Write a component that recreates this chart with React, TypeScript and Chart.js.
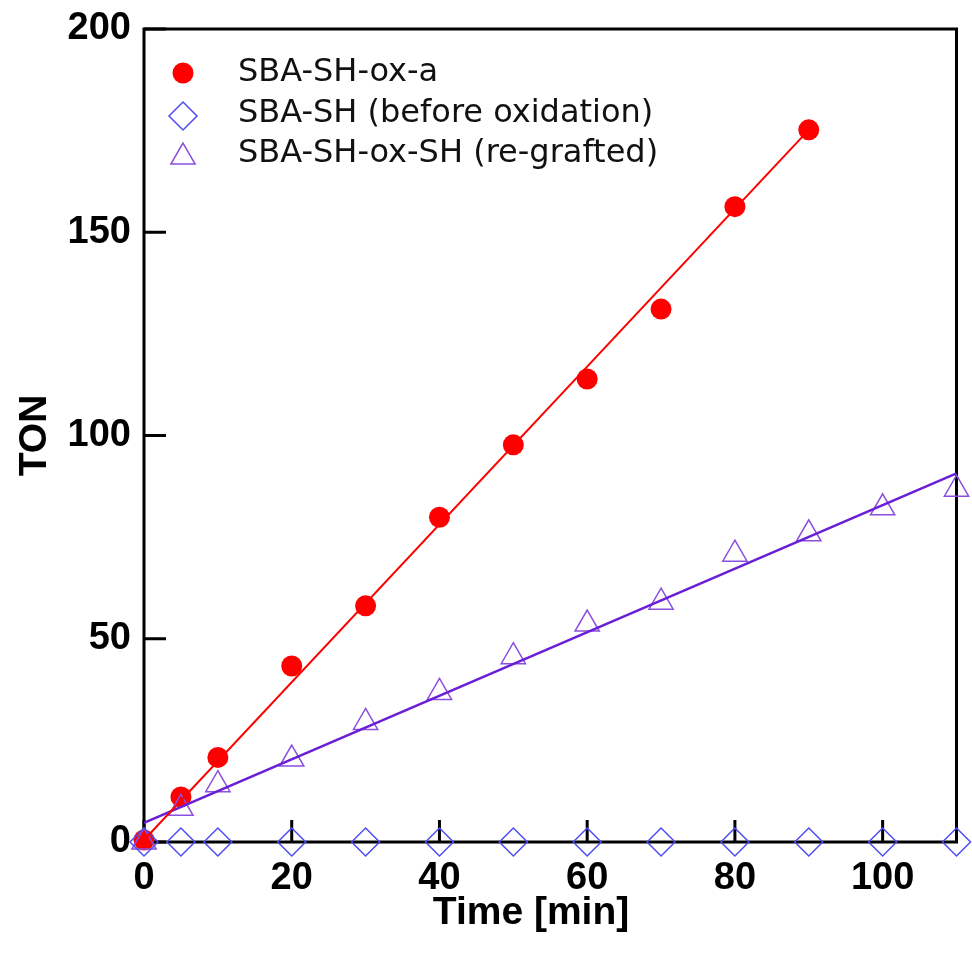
import React, { useEffect, useRef } from "react";
import { Chart, registerables } from "chart.js";

Chart.register(...registerables);

// Reaction time points [min]
const timeOxA = [0, 5, 10, 20, 30, 40, 50, 60, 70, 80, 90];
const timeAll = [0, 5, 10, 20, 30, 40, 50, 60, 70, 80, 90, 100, 110];

// Turnover numbers
const tonOxA = [0.5, 11.1, 20.8, 43.3, 58.1, 79.9, 97.7, 113.9, 131.1, 156.3, 175.2];
const tonBefore = [0, 0, 0, 0, 0, 0, 0, 0, 0, 0, 0, 0, 0];
const tonRegrafted = [0, 8.3, 14.1, 20.4, 29.4, 36.8, 45.6, 53.6, 59.0, 70.8, 75.8, 82.2, 86.8];

// Linear fit end points
const fitOxATime = [0, 90];
const fitOxATon = [0.5, 175.2];
const fitRegraftedTime = [0, 110];
const fitRegraftedTon = [4.7, 90.7];

const xTicks = [0, 20, 40, 60, 80, 100];
const yTicks = [0, 50, 100, 150, 200];

const xTitle = "Time [min]";
const yTitle = "TON";

const legendLabels = [
  "SBA-SH-ox-a",
  "SBA-SH (before oxidation)",
  "SBA-SH-ox-SH (re-grafted)",
];

const RED = "#ff0000";
const BLUE = "#4d4df2";
const VIOLET = "#8a4fe0";
const VIOLET_LINE = "#6a1fd6";

const FAMILY = "'Liberation Sans', Arial, Helvetica, sans-serif";
const LEGEND_FAMILY = "'DejaVu Sans', Verdana, sans-serif";

const toPoints = (xs: number[], ys: number[]) => xs.map((x, i) => ({ x, y: ys[i] }));

const framePlugin = {
  id: "frameAndTicks",
  beforeDatasetsDraw(chart: any) {
    const { ctx, chartArea } = chart;
    const { left, right, top, bottom } = chartArea;
    const xs = chart.scales.x;
    const ys = chart.scales.y;
    ctx.save();
    ctx.strokeStyle = "#000";
    ctx.lineWidth = 3;
    ctx.strokeRect(left, top, right - left, bottom - top);
    const tl = 22;
    ctx.beginPath();
    xTicks.forEach((v) => {
      const px = xs.getPixelForValue(v);
      ctx.moveTo(px, bottom);
      ctx.lineTo(px, bottom - tl);
    });
    yTicks.forEach((v) => {
      const py = ys.getPixelForValue(v);
      ctx.moveTo(left, py);
      ctx.lineTo(left + tl, py);
    });
    ctx.stroke();
    ctx.restore();
  },
  afterDraw(chart: any) {
    const { ctx } = chart;
    ctx.save();
    ctx.fillStyle = "#000";
    ctx.font = `bold 39px ${FAMILY}`;
    ctx.textAlign = "center";
    ctx.textBaseline = "middle";
    ctx.fillText(xTitle, 531, 913);
    ctx.restore();
  },
};

const legendPlugin = {
  id: "insetLegend",
  afterDraw(chart: any) {
    const { ctx } = chart;
    const mx = 183;
    const tx = 238;
    const rows = [73, 114, 154];
    ctx.save();
    // filled circle
    ctx.fillStyle = RED;
    ctx.beginPath();
    ctx.arc(mx, rows[0], 10.5, 0, Math.PI * 2);
    ctx.fill();
    // open diamond
    ctx.strokeStyle = BLUE;
    ctx.lineWidth = 1.5;
    ctx.beginPath();
    ctx.moveTo(mx - 14, rows[1] + 2);
    ctx.lineTo(mx, rows[1] - 12);
    ctx.lineTo(mx + 14, rows[1] + 2);
    ctx.lineTo(mx, rows[1] + 16);
    ctx.closePath();
    ctx.stroke();
    // open triangle
    ctx.strokeStyle = VIOLET;
    const r = 14;
    const cy = rows[2] + 3;
    ctx.beginPath();
    ctx.moveTo(mx, cy - r);
    ctx.lineTo(mx + r * Math.sin(Math.PI / 3), cy + r / 2);
    ctx.lineTo(mx - r * Math.sin(Math.PI / 3), cy + r / 2);
    ctx.closePath();
    ctx.stroke();
    // labels
    ctx.fillStyle = "#111";
    ctx.font = `32px ${LEGEND_FAMILY}`;
    ctx.textAlign = "left";
    ctx.textBaseline = "middle";
    legendLabels.forEach((t, i) => ctx.fillText(t, tx, rows[i]));
    ctx.restore();
  },
};

export default function App() {
  const canvasRef = useRef<HTMLCanvasElement | null>(null);

  useEffect(() => {
    document.body.style.margin = "0";
    const canvas = canvasRef.current;
    if (!canvas) return;
    const tickFont = { family: FAMILY, size: 38, weight: "bold" as const };
    const titleFont = { family: FAMILY, size: 39, weight: "bold" as const };

    const chart = new Chart(canvas, {
      type: "scatter",
      data: {
        datasets: [
          {
            label: "fit-ox-a",
            type: "line",
            data: toPoints(fitOxATime, fitOxATon),
            borderColor: RED,
            borderWidth: 2,
            pointRadius: 0,
            fill: false,
          },
          {
            label: "fit-regrafted",
            type: "line",
            data: toPoints(fitRegraftedTime, fitRegraftedTon),
            borderColor: VIOLET_LINE,
            borderWidth: 2.5,
            pointRadius: 0,
            fill: false,
          },
          {
            label: legendLabels[1],
            data: toPoints(timeAll, tonBefore),
            pointStyle: "rectRot",
            pointRadius: 14,
            pointBorderWidth: 1.5,
            pointBorderColor: BLUE,
            pointBackgroundColor: "rgba(0,0,0,0)",
            clip: false as any,
          },
          {
            label: legendLabels[2],
            data: toPoints(timeAll, tonRegrafted),
            pointStyle: "triangle",
            pointRadius: 14,
            pointBorderWidth: 1.5,
            pointBorderColor: VIOLET,
            pointBackgroundColor: "rgba(0,0,0,0)",
            clip: false as any,
          },
          {
            label: legendLabels[0],
            data: toPoints(timeOxA, tonOxA),
            pointStyle: "circle",
            pointRadius: 10.5,
            pointBorderWidth: 0,
            pointBackgroundColor: RED,
            pointBorderColor: RED,
            clip: false as any,
          },
        ],
      },
      options: {
        animation: false,
        responsive: true,
        maintainAspectRatio: false,
        layout: { padding: { top: 29, right: 15, left: 0, bottom: 0 } },
        plugins: {
          legend: { display: false },
          tooltip: { enabled: false },
        },
        scales: {
          x: {
            type: "linear",
            min: 0,
            max: 110,
            grid: { display: false, drawTicks: false },
            border: { display: false },
            ticks: {
              stepSize: 20,
              includeBounds: false,
              padding: 14,
              color: "#000",
              font: tickFont,
              maxRotation: 0,
            },
            afterFit: (s: any) => {
              s.height = 116;
              s.paddingLeft = 0;
              s.paddingRight = 0;
            },
          },
          y: {
            type: "linear",
            min: 0,
            max: 200,
            grid: { display: false, drawTicks: false },
            border: { display: false },
            ticks: {
              stepSize: 50,
              padding: 13,
              color: "#000",
              font: tickFont,
            },
            title: {
              display: true,
              text: yTitle,
              color: "#000",
              font: titleFont,
              padding: { top: 12, bottom: 0 },
            },
            afterFit: (s: any) => {
              s.width = 144;
              s.paddingTop = 0;
              s.paddingBottom = 0;
            },
          },
        },
      },
      plugins: [framePlugin, legendPlugin],
    });
    return () => chart.destroy();
  }, []);

  return (
    <div style={{ position: "fixed", left: 0, top: 0, width: 972, height: 958, background: "#fff" }}>
      <canvas ref={canvasRef} />
    </div>
  );
}
